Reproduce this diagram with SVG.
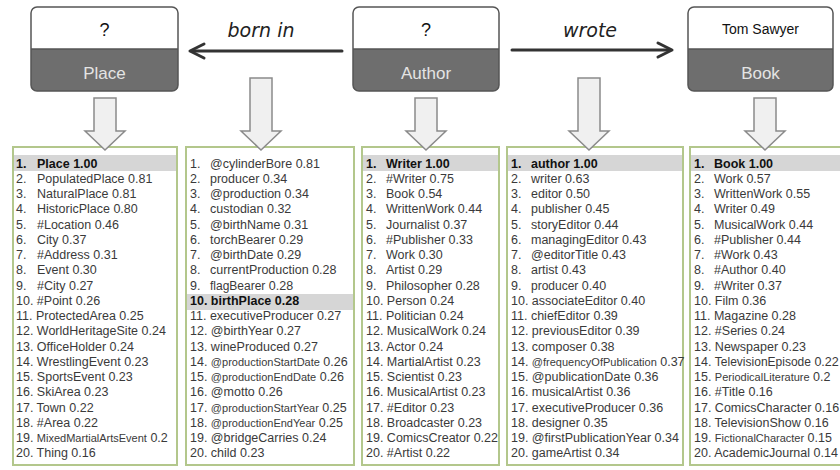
<svg xmlns="http://www.w3.org/2000/svg" width="840" height="470" viewBox="0 0 840 470">
<style>
.nt{fill:#fff}
.nb{fill:#6e6e6e}
.no{fill:none;stroke:#555;stroke-width:1.5}
.q{font-family:"Liberation Sans",Arial,sans-serif;font-size:18px;fill:#111;text-anchor:middle}
.ts{font-family:"Liberation Sans",Arial,sans-serif;font-size:14px;fill:#111;text-anchor:middle}
.ty{font-family:"Liberation Sans",Arial,sans-serif;font-size:17px;fill:#e4e4e4;text-anchor:middle}
.rel{font-family:"DejaVu Sans",sans-serif;font-style:italic;font-size:19px;fill:#222;text-anchor:middle}
.ln{fill:none;stroke:#333;stroke-width:3;stroke-linecap:round;stroke-linejoin:round}
.ba{fill:#f0f0f0;stroke:#8a8a8a;stroke-width:1.5;stroke-linejoin:miter}
.box{fill:#fff;stroke:#b3c78c;stroke-width:2}
.hl{fill:#d6d6d6}
.r{font-family:"Liberation Sans",Arial,sans-serif;font-size:12.5px;fill:#3a3a3a}
.b{font-weight:bold;fill:#111}
.s{font-size:11px}
.m{font-size:12px}
</style>

<!-- list boxes -->
<g id="list-place">
<rect class="box" x="13" y="147" width="164" height="318"/>
<rect class="hl" x="14" y="155" width="162" height="16"/>
<g class="r">
<text x="16" y="167.5" class="b">1.</text><text x="37" y="167.5" class="b">Place 1.00</text>
<text x="16" y="182.8">2.</text><text x="37" y="182.8">PopulatedPlace 0.81</text>
<text x="16" y="198">3.</text><text x="37" y="198">NaturalPlace 0.81</text>
<text x="16" y="213.3">4.</text><text x="37" y="213.3">HistoricPlace 0.80</text>
<text x="16" y="228.5">5.</text><text x="37" y="228.5">#Location 0.46</text>
<text x="16" y="243.8">6.</text><text x="37" y="243.8">City 0.37</text>
<text x="16" y="259.1">7.</text><text x="37" y="259.1">#Address 0.31</text>
<text x="16" y="274.3">8.</text><text x="37" y="274.3">Event 0.30</text>
<text x="16" y="289.6">9.</text><text x="37" y="289.6">#City 0.27</text>
<text x="16" y="304.8">10. #Point 0.26</text>
<text x="16" y="320.1">11. ProtectedArea 0.25</text>
<text x="16" y="335.4">12. WorldHeritageSite 0.24</text>
<text x="16" y="350.6">13. OfficeHolder 0.24</text>
<text x="16" y="365.9">14. WrestlingEvent 0.23</text>
<text x="16" y="381.1">15. SportsEvent 0.23</text>
<text x="16" y="396.4">16. SkiArea 0.23</text>
<text x="16" y="411.7">17. Town 0.22</text>
<text x="16" y="426.9">18. #Area 0.22</text>
<text x="16" y="442.2">19. <tspan class="s">MixedMartialArtsEvent</tspan> 0.2</text>
<text x="16" y="457.4">20. Thing 0.16</text>
</g>
</g>

<g id="list-bornin">
<rect class="box" x="186" y="147" width="168" height="318"/>
<rect class="hl" x="187" y="294" width="166" height="16"/>
<g class="r">
<text x="190" y="167.5">1.</text><text x="210" y="167.5">@cylinderBore 0.81</text>
<text x="190" y="182.8">2.</text><text x="210" y="182.8">producer 0.34</text>
<text x="190" y="198">3.</text><text x="210" y="198">@production 0.34</text>
<text x="190" y="213.3">4.</text><text x="210" y="213.3">custodian 0.32</text>
<text x="190" y="228.5">5.</text><text x="210" y="228.5">@birthName 0.31</text>
<text x="190" y="243.8">6.</text><text x="210" y="243.8">torchBearer 0.29</text>
<text x="190" y="259.1">7.</text><text x="210" y="259.1">@birthDate 0.29</text>
<text x="190" y="274.3">8.</text><text x="210" y="274.3">currentProduction 0.28</text>
<text x="190" y="289.6">9.</text><text x="210" y="289.6"><tspan class="m">flagBearer</tspan> 0.28</text>
<text x="190" y="304.8" class="b">10. birthPlace 0.28</text>
<text x="190" y="320.1">11. executiveProducer 0.27</text>
<text x="190" y="335.4">12. @birthYear 0.27</text>
<text x="190" y="350.6">13. wineProduced 0.27</text>
<text x="190" y="365.9">14. <tspan class="s">@productionStartDate</tspan> 0.26</text>
<text x="190" y="381.1">15. <tspan class="s">@productionEndDate</tspan> 0.26</text>
<text x="190" y="396.4">16. @motto 0.26</text>
<text x="190" y="411.7">17. <tspan class="s">@productionStartYear</tspan> 0.25</text>
<text x="190" y="426.9">18. <tspan class="s">@productionEndYear</tspan> 0.25</text>
<text x="190" y="442.2">19. @bridgeCarries 0.24</text>
<text x="190" y="457.4">20. child 0.23</text>
</g>
</g>

<g id="list-author">
<rect class="box" x="362" y="147" width="137" height="318"/>
<rect class="hl" x="363" y="155" width="135" height="16"/>
<g class="r">
<text x="366" y="167.5" class="b">1.</text><text x="386" y="167.5" class="b">Writer 1.00</text>
<text x="366" y="182.8">2.</text><text x="386" y="182.8">#Writer 0.75</text>
<text x="366" y="198">3.</text><text x="386" y="198">Book 0.54</text>
<text x="366" y="213.3">4.</text><text x="386" y="213.3">WrittenWork 0.44</text>
<text x="366" y="228.5">5.</text><text x="386" y="228.5">Journalist 0.37</text>
<text x="366" y="243.8">6.</text><text x="386" y="243.8">#Publisher 0.33</text>
<text x="366" y="259.1">7.</text><text x="386" y="259.1">Work 0.30</text>
<text x="366" y="274.3">8.</text><text x="386" y="274.3">Artist 0.29</text>
<text x="366" y="289.6">9.</text><text x="386" y="289.6">Philosopher 0.28</text>
<text x="366" y="304.8">10. Person 0.24</text>
<text x="366" y="320.1">11. Politician 0.24</text>
<text x="366" y="335.4">12. MusicalWork 0.24</text>
<text x="366" y="350.6">13. Actor 0.24</text>
<text x="366" y="365.9">14. MartialArtist 0.23</text>
<text x="366" y="381.1">15. Scientist 0.23</text>
<text x="366" y="396.4">16. MusicalArtist 0.23</text>
<text x="366" y="411.7">17. #Editor 0.23</text>
<text x="366" y="426.9">18. Broadcaster 0.23</text>
<text x="366" y="442.2">19. ComicsCreator 0.22</text>
<text x="366" y="457.4">20. #Artist 0.22</text>
</g>
</g>

<g id="list-wrote">
<rect class="box" x="507" y="147" width="176" height="318"/>
<rect class="hl" x="508" y="155" width="174" height="16"/>
<g class="r">
<text x="511" y="167.5" class="b">1.</text><text x="531" y="167.5" class="b">author 1.00</text>
<text x="511" y="182.8">2.</text><text x="531" y="182.8">writer 0.63</text>
<text x="511" y="198">3.</text><text x="531" y="198">editor 0.50</text>
<text x="511" y="213.3">4.</text><text x="531" y="213.3">publisher 0.45</text>
<text x="511" y="228.5">5.</text><text x="531" y="228.5">storyEditor 0.44</text>
<text x="511" y="243.8">6.</text><text x="531" y="243.8">managingEditor 0.43</text>
<text x="511" y="259.1">7.</text><text x="531" y="259.1">@editorTitle 0.43</text>
<text x="511" y="274.3">8.</text><text x="531" y="274.3">artist 0.43</text>
<text x="511" y="289.6">9.</text><text x="531" y="289.6"><tspan class="m">producer</tspan> 0.40</text>
<text x="511" y="304.8">10. associateEditor 0.40</text>
<text x="511" y="320.1">11. chiefEditor 0.39</text>
<text x="511" y="335.4">12. previousEditor 0.39</text>
<text x="511" y="350.6">13. composer 0.38</text>
<text x="511" y="365.9">14. <tspan class="s">@frequencyOfPublication</tspan> 0.37</text>
<text x="511" y="381.1">15. @publicationDate 0.36</text>
<text x="511" y="396.4">16. musicalArtist 0.36</text>
<text x="511" y="411.7">17. executiveProducer 0.36</text>
<text x="511" y="426.9">18. designer 0.35</text>
<text x="511" y="442.2">19. @firstPublicationYear 0.34</text>
<text x="511" y="457.4">20. gameArtist 0.34</text>
</g>
</g>

<g id="list-book">
<rect class="box" x="690" y="147" width="160" height="318"/>
<rect class="hl" x="691" y="155" width="158" height="16"/>
<g class="r">
<text x="694" y="167.5" class="b">1.</text><text x="714" y="167.5" class="b">Book 1.00</text>
<text x="694" y="182.8">2.</text><text x="714" y="182.8">Work 0.57</text>
<text x="694" y="198">3.</text><text x="714" y="198">WrittenWork 0.55</text>
<text x="694" y="213.3">4.</text><text x="714" y="213.3">Writer 0.49</text>
<text x="694" y="228.5">5.</text><text x="714" y="228.5">MusicalWork 0.44</text>
<text x="694" y="243.8">6.</text><text x="714" y="243.8">#Publisher 0.44</text>
<text x="694" y="259.1">7.</text><text x="714" y="259.1">#Work 0.43</text>
<text x="694" y="274.3">8.</text><text x="714" y="274.3">#Author 0.40</text>
<text x="694" y="289.6">9.</text><text x="714" y="289.6">#Writer 0.37</text>
<text x="694" y="304.8">10. Film 0.36</text>
<text x="694" y="320.1">11. Magazine 0.28</text>
<text x="694" y="335.4">12. #Series 0.24</text>
<text x="694" y="350.6">13. Newspaper 0.23</text>
<text x="694" y="365.9">14. <tspan class="m">TelevisionEpisode</tspan> 0.22</text>
<text x="694" y="381.1">15. <tspan class="s">PeriodicalLiterature</tspan> 0.2</text>
<text x="694" y="396.4">16. #Title 0.16</text>
<text x="694" y="411.7">17. ComicsCharacter 0.16</text>
<text x="694" y="426.9">18. TelevisionShow 0.16</text>
<text x="694" y="442.2">19. <tspan class="s">FictionalCharacter</tspan> 0.15</text>
<text x="694" y="457.4">20. AcademicJournal 0.14</text>
</g>
</g>

<!-- header nodes -->
<g id="node-place">
<path class="nt" d="M31,49 V13 Q31,7 37,7 H172 Q178,7 178,13 V49 Z"/>
<path class="nb" d="M31,49 H178 V85 Q178,91 172,91 H37 Q31,91 31,85 Z"/>
<rect class="no" x="31" y="7" width="147" height="84" rx="6"/>
<line class="no" x1="31" y1="49" x2="178" y2="49"/>
<text class="q" x="104.5" y="36">?</text>
<text class="ty" x="104.5" y="79">Place</text>
</g>
<g id="node-author">
<path class="nt" d="M353,49 V13 Q353,7 359,7 H493 Q499,7 499,13 V49 Z"/>
<path class="nb" d="M353,49 H499 V85 Q499,91 493,91 H359 Q353,91 353,85 Z"/>
<rect class="no" x="353" y="7" width="146" height="84" rx="6"/>
<line class="no" x1="353" y1="49" x2="499" y2="49"/>
<text class="q" x="426" y="36">?</text>
<text class="ty" x="426" y="79">Author</text>
</g>
<g id="node-book">
<path class="nt" d="M688,49 V13 Q688,7 694,7 H827 Q833,7 833,13 V49 Z"/>
<path class="nb" d="M688,49 H833 V85 Q833,91 827,91 H694 Q688,91 688,85 Z"/>
<rect class="no" x="688" y="7" width="145" height="84" rx="6"/>
<line class="no" x1="688" y1="49" x2="833" y2="49"/>
<text class="ts" x="760.5" y="34">Tom Sawyer</text>
<text class="ty" x="760.5" y="79">Book</text>
</g>

<!-- connectors -->
<g id="connectors">
<line class="ln" x1="342" y1="51" x2="192" y2="51"/>
<polyline class="ln" points="204,44 190,51 204,58"/>
<text class="rel" x="261" y="37">born in</text>
<line class="ln" x1="512" y1="50" x2="670" y2="50"/>
<polyline class="ln" points="658,43 672,50 658,57"/>
<text class="rel" x="590" y="37">wrote</text>
<path class="ba" d="M94,98 H116 V131 H125 L105,150 L85,131 H94 Z"/>
<path class="ba" d="M250,78 H272 V131 H281 L261,150 L241,131 H250 Z"/>
<path class="ba" d="M415,98 H437 V131 H446 L426,150 L406,131 H415 Z"/>
<path class="ba" d="M578,78 H600 V131 H609 L589,150 L569,131 H578 Z"/>
<path class="ba" d="M754,98 H776 V131 H785 L765,150 L745,131 H754 Z"/>
</g>
</svg>
